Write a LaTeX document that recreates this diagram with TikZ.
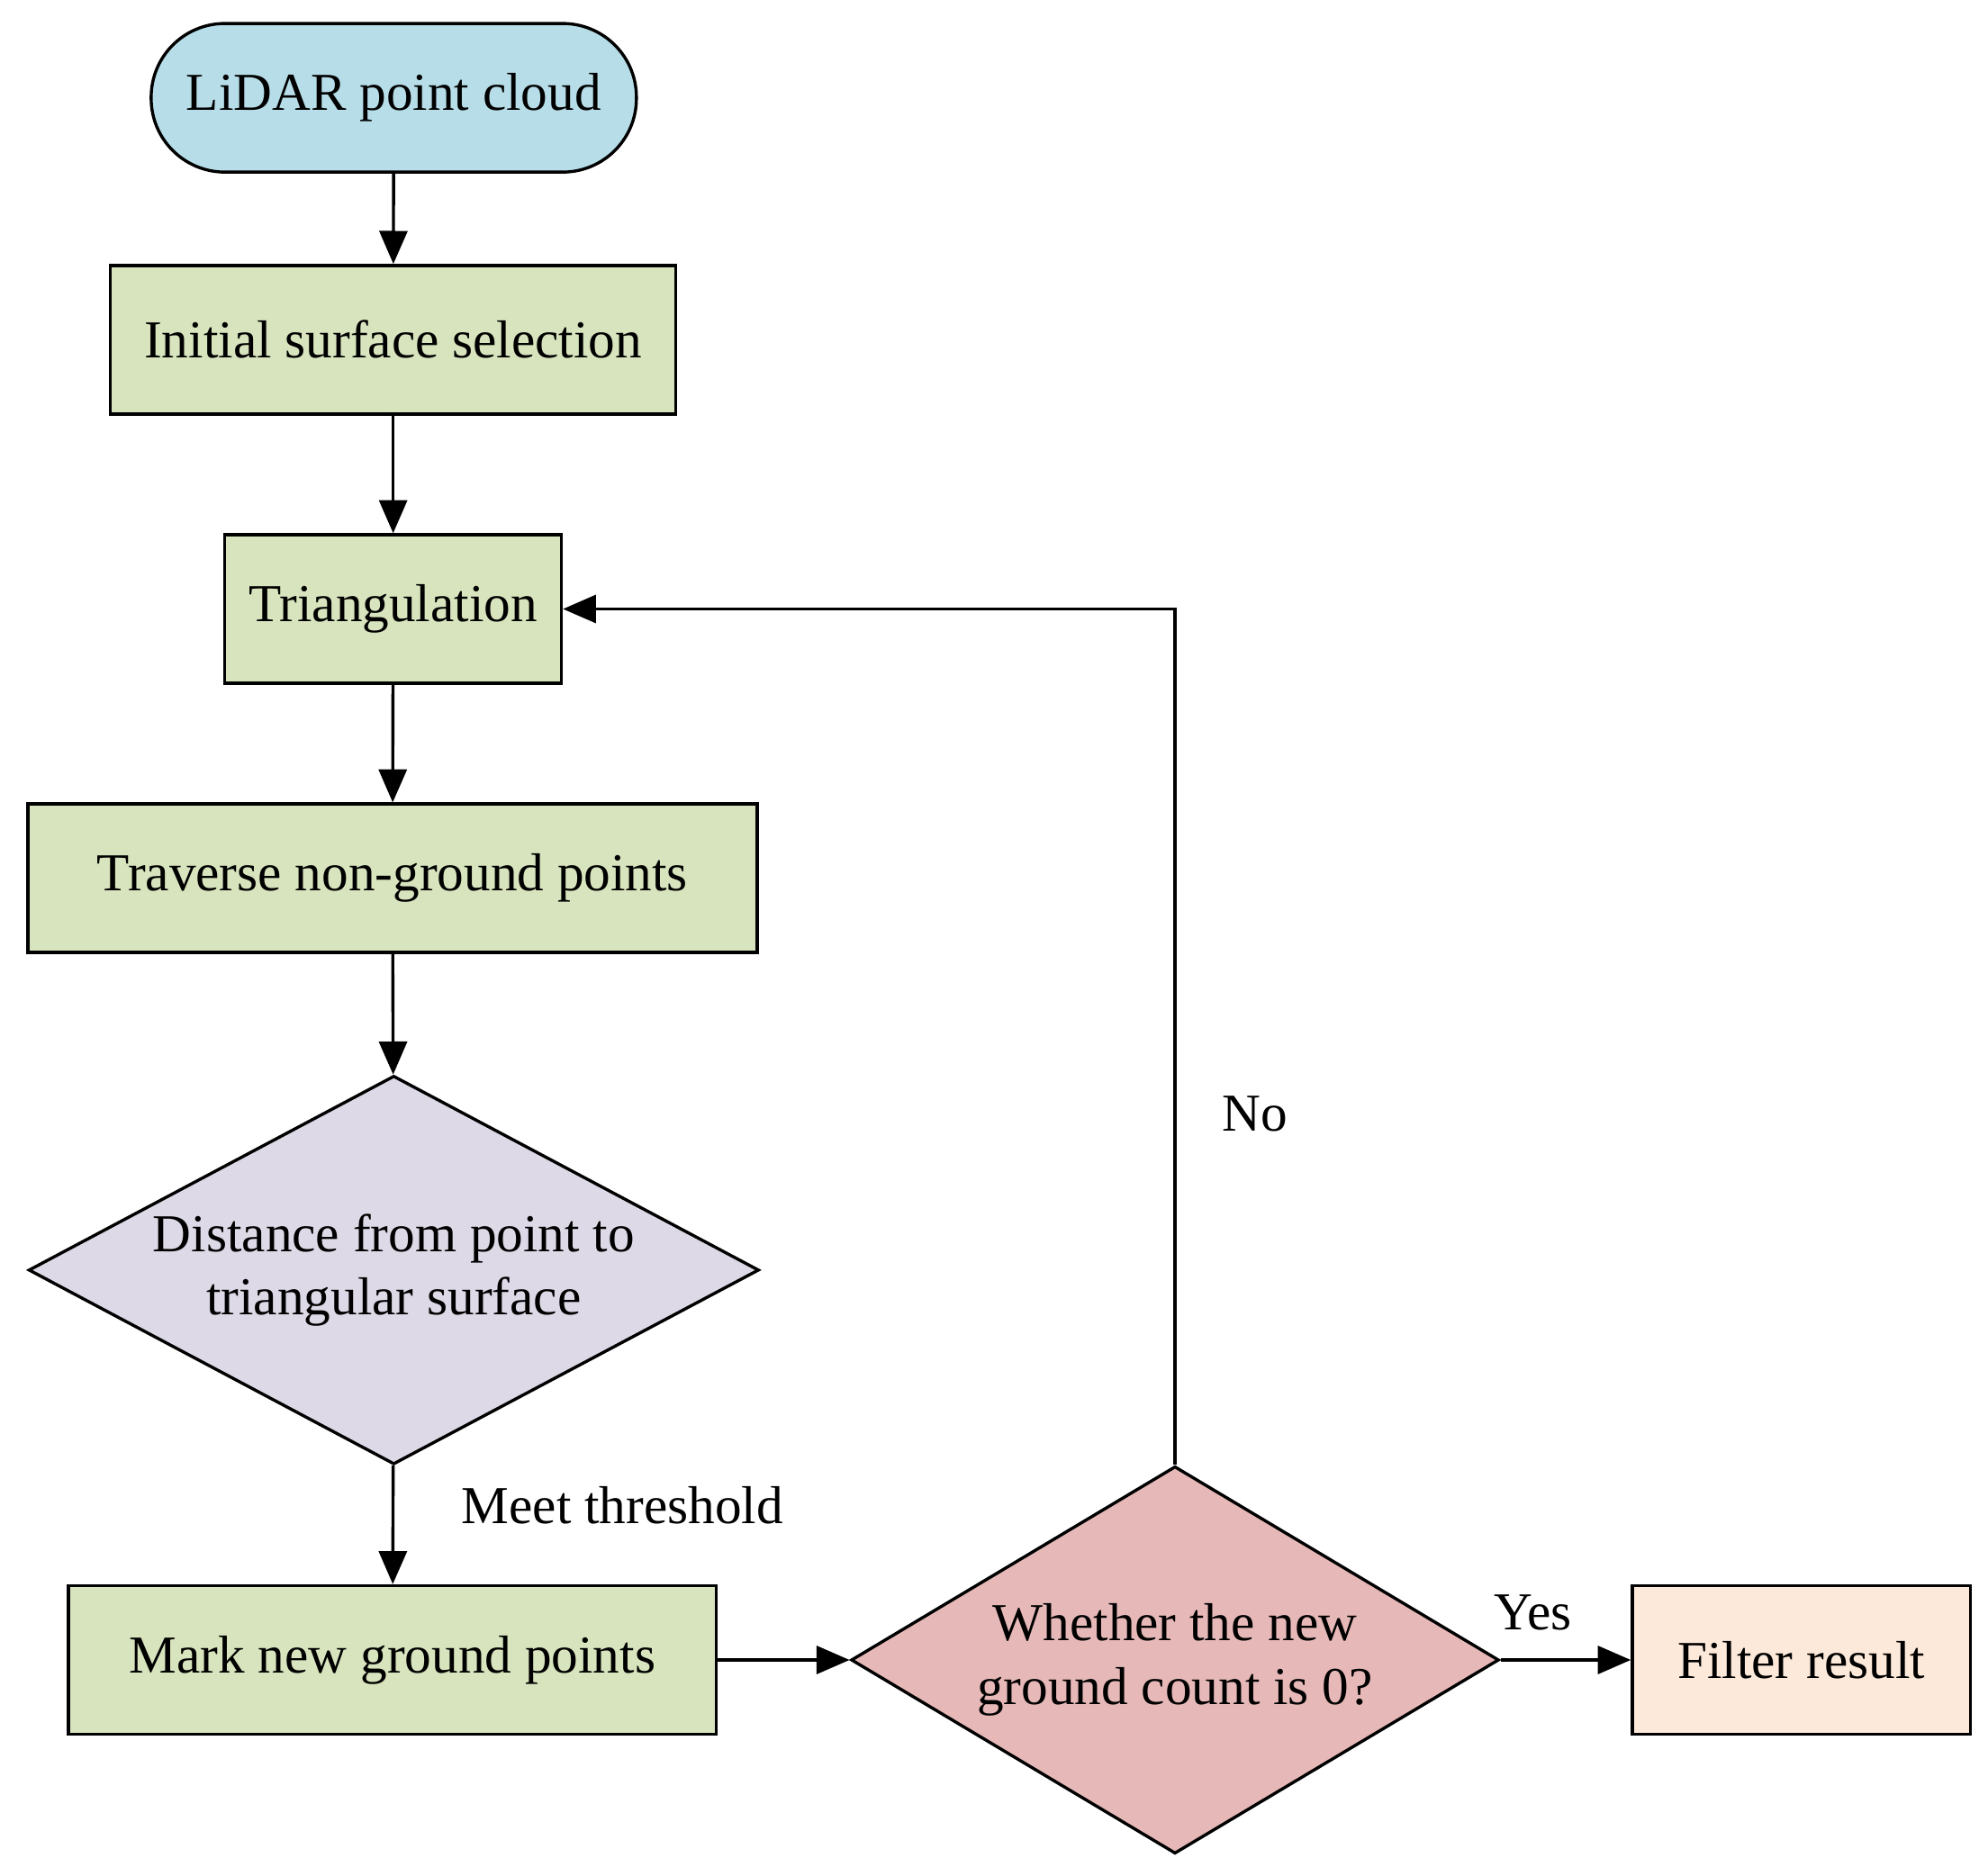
\documentclass[tikz,border=0pt]{standalone}
\usepackage{fontspec}
\setmainfont{Liberation Serif}
\usetikzlibrary{shapes.geometric,arrows.meta}
\definecolor{cblue}{HTML}{B7DEE8}
\definecolor{cgreen}{HTML}{D7E4BD}
\definecolor{cpurple}{HTML}{DDD9E6}
\definecolor{cred}{HTML}{E6B9B8}
\definecolor{corange}{HTML}{FDE9D9}
\begin{document}
\begin{tikzpicture}[x=0.5pt,y=-0.5pt,
  every node/.style={font=\fontsize{21}{25}\selectfont},
  box/.style={draw,line width=1.2pt,fill=cgreen,minimum height=58.5pt,inner sep=0pt},
  dia/.style={draw,line width=1.2pt,diamond,inner sep=0pt,align=center},
  arr/.style={line width=1.2pt,-{Triangle[length=13pt,width=11pt]}}]
\useasboundingbox (0,0) rectangle (1565,1477);
\node[draw,line width=1.2pt,fill=cblue,rounded corners=29pt,minimum width=191pt,minimum height=58.5pt] (s) at (310,77) {LiDAR point cloud};
\node[box,minimum width=222.5pt] (a) at (309.5,267.5) {Initial surface selection};
\node[box,minimum width=132.5pt] (b) at (309.5,479.5) {Triangulation};
\node[box,minimum width=287pt] (c) at (309,691.5) {Traverse non-ground points};
\node[dia,fill=cpurple,minimum width=287.5pt,minimum height=153pt] (d) at (310,1000) {};
\node[align=center] at (310,1000) {Distance from point to\\triangular surface};
\node[box,minimum width=255pt] (m) at (309,1307) {Mark new ground points};
\node[dia,fill=cred,minimum width=255pt,minimum height=152.5pt] (w) at (925,1307) {};
\node[align=center] at (925,1307) {Whether the new\\ground count is 0?};
\node[box,fill=corange,minimum width=133pt] (f) at (1418,1307) {Filter result};
\draw[arr] (s) -- (a);
\draw[arr] (a) -- (b);
\draw[arr] (b) -- (c);
\draw[arr] (c) -- (d);
\draw[arr] (d) -- (m);
\draw[arr] (m) -- (w);
\draw[arr] (w) -- (f);
\draw[arr] (w.north) |- (b.east);
\node at (988,877) {No};
\node at (1207,1270) {Yes};
\node at (490,1185) {Meet threshold};
\end{tikzpicture}
\end{document}
